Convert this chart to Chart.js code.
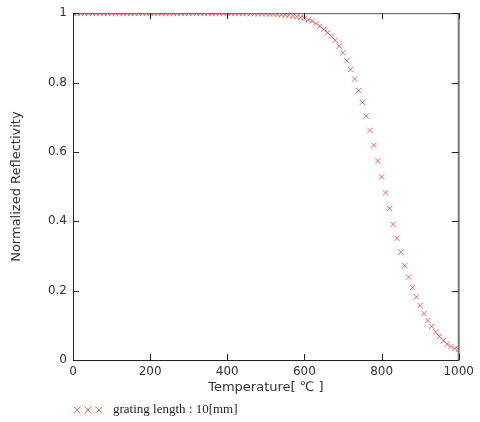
<!DOCTYPE html>
<html>
<head>
<meta charset="utf-8">
<script src="https://cdn.jsdelivr.net/npm/chart.js@4"></script>
<style>
  html, body { margin: 0; padding: 0; background: #fff; }
  #wrap { width: 480px; height: 422px; position: relative; }
</style>
</head>
<body>
<div id="wrap"><canvas id="chart"></canvas></div>
<script>
// temperature [°C], every 10 degrees
const temperatures = [];
for (let t = 0; t <= 1000; t += 10) temperatures.push(t);

// normalized reflectivity (0..1000 step 10)
const reflectivity = [
  1.000, 1.000, 1.000, 1.000, 1.000, 1.000, 1.000, 1.000, 1.000, 1.000, // 0-90
  1.000, 1.000, 1.000, 1.000, 1.000, 1.000, 1.000, 1.000, 1.000, 1.000, // 100-190
  1.000, 1.000, 1.000, 1.000, 1.000, 1.000, 1.000, 1.000, 1.000, 1.000, // 200-290
  1.000, 1.000, 1.000, 1.000, 1.000, 1.000, 1.000, 1.000, 1.000, 1.000, // 300-390
  1.000, 1.000, 1.000, 1.000, 1.000, 1.000, 0.999, 0.999, 0.999, 0.999, // 400-490
  0.999, 0.998, 0.998, 0.997, 0.996, 0.995, 0.994, 0.992, 0.990, 0.988, // 500-590
  0.985, 0.981, 0.977, 0.970, 0.962, 0.953, 0.944, 0.934, 0.922, 0.905, // 600-690
  0.886, 0.863, 0.838, 0.810, 0.777, 0.743, 0.703, 0.662, 0.619, 0.574, // 700-790
  0.528, 0.482, 0.437, 0.391, 0.351, 0.311, 0.272, 0.239, 0.209, 0.182, // 800-890
  0.157, 0.134, 0.114, 0.097, 0.081, 0.068, 0.056, 0.046, 0.039, 0.033, // 900-990
  0.030                                                                 // 1000
];

const xTicks = [0, 200, 400, 600, 800, 1000];
const yTicks = [0, 0.2, 0.4, 0.6, 0.8, 1];
const seriesLabel = "grating length : 10[mm]";

const markColor = "rgba(255, 0, 0, 0.6)";
const textColor = "#333";

// frame with inward ticks on all four sides, like the original plot
const framePlugin = {
  id: "frame",
  afterDatasetsDraw(chart) {
    const { ctx, chartArea: a, scales } = chart;
    ctx.save();
    ctx.lineWidth = 1;
    ctx.strokeStyle = "#222";
    ctx.beginPath();
    ctx.moveTo(a.left + 0.5, a.top);
    ctx.lineTo(a.left + 0.5, a.bottom + 0.5);
    ctx.lineTo(a.right, a.bottom + 0.5);
    ctx.stroke();
    ctx.strokeStyle = "#555";
    ctx.beginPath();
    ctx.moveTo(a.left, a.top + 0.5);
    ctx.lineTo(a.right, a.top + 0.5);
    ctx.stroke();
    ctx.strokeStyle = "#777";
    ctx.lineWidth = 2;
    ctx.beginPath();
    ctx.moveTo(a.right, a.top);
    ctx.lineTo(a.right, a.bottom + 1);
    ctx.stroke();

    ctx.lineWidth = 1;
    ctx.strokeStyle = "#222";
    const len = 6;
    xTicks.forEach(v => {
      const px = Math.round(scales.x.getPixelForValue(v)) + 0.5;
      ctx.beginPath();
      ctx.moveTo(px, a.bottom); ctx.lineTo(px, a.bottom - len);
      ctx.moveTo(px, a.top); ctx.lineTo(px, a.top + len);
      ctx.stroke();
    });
    yTicks.forEach(v => {
      const py = Math.round(scales.y.getPixelForValue(v)) + 0.5;
      ctx.beginPath();
      ctx.moveTo(a.left, py); ctx.lineTo(a.left + len, py);
      ctx.moveTo(a.right, py); ctx.lineTo(a.right - len - 1, py);
      ctx.stroke();
    });
    ctx.restore();
  },
  afterDraw(chart) {
    // legend: three crosses and the series name
    const { ctx } = chart;
    ctx.save();
    ctx.strokeStyle = markColor;
    ctx.lineWidth = 1;
    const ly = 410, r = 3.5;
    [77, 88, 99].forEach(cx => {
      ctx.beginPath();
      ctx.moveTo(cx - r, ly - r); ctx.lineTo(cx + r, ly + r);
      ctx.moveTo(cx - r, ly + r); ctx.lineTo(cx + r, ly - r);
      ctx.stroke();
    });
    ctx.fillStyle = "#222";
    ctx.font = "13px 'Liberation Serif'";
    ctx.textBaseline = "middle";
    ctx.fillText(seriesLabel, 113, ly);
    ctx.restore();
  }
};

const ctx = document.getElementById("chart").getContext("2d");
new Chart(ctx, {
  type: "scatter",
  data: {
    datasets: [{
      label: seriesLabel,
      data: temperatures.map((t, i) => ({ x: t, y: reflectivity[i] })),
      pointStyle: "crossRot",
      pointRadius: 3.8,
      pointBorderWidth: 1,
      borderColor: markColor,
      backgroundColor: markColor,
      showLine: false
    }]
  },
  options: {
    responsive: true,
    maintainAspectRatio: false,
    animation: false,
    layout: { padding: { top: 13, right: 19, left: 0, bottom: 14 } },
    plugins: {
      legend: { display: false },
      tooltip: { enabled: false }
    },
    scales: {
      x: {
        type: "linear",
        min: 0,
        max: 1000,
        grid: { display: false, drawTicks: false },
        border: { display: false },
        afterBuildTicks: s => { s.ticks = xTicks.map(v => ({ value: v })); },
        afterFit: s => { s.height = 48; },
        ticks: {
          color: textColor, padding: 6,
          font: { family: "DejaVu Sans", size: 12, lineHeight: 1 },
          callback: v => String(v)
        },
        title: {
          display: true,
          text: "Temperature[ ℃ ]",
          color: textColor,
          padding: { top: 0, bottom: 13.5 },
          font: { family: "DejaVu Sans", size: 13, lineHeight: 1 }
        }
      },
      y: {
        min: 0,
        max: 1,
        grid: { display: false, drawTicks: false },
        border: { display: false },
        afterBuildTicks: s => { s.ticks = yTicks.map(v => ({ value: v })); },
        afterFit: s => { s.width = 73; },
        ticks: {
          color: textColor, padding: 6,
          font: { family: "DejaVu Sans", size: 12 },
          callback: v => String(Math.round(v * 10) / 10)
        },
        title: {
          display: true,
          text: "Normalized Reflectivity",
          color: textColor,
          padding: { top: 9, bottom: 4 },
          font: { family: "DejaVu Sans", size: 13 }
        }
      }
    }
  },
  plugins: [framePlugin]
});
</script>
</body>
</html>
